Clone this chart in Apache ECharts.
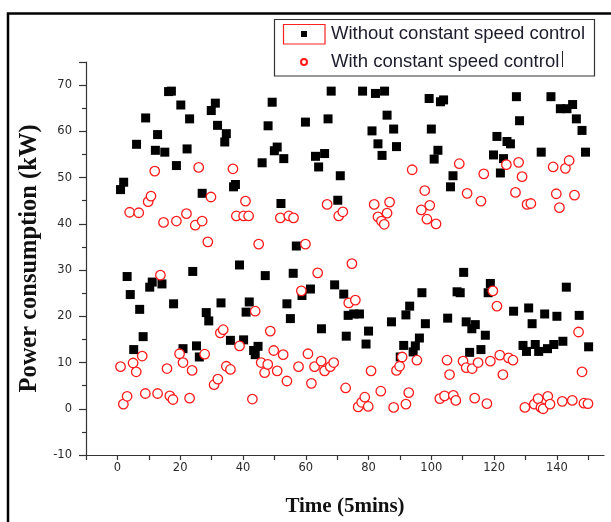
<!DOCTYPE html>
<html>
<head>
<meta charset="utf-8">
<script src="https://cdn.jsdelivr.net/npm/echarts@6/dist/echarts.min.js"></script>
<style>html,body{margin:0;padding:0;background:#fff;}#chart{width:611px;height:522px;}</style>
</head>
<body>
<div id="chart"></div>
<script>
// Series names
var seriesNames = ['Without constant speed control', 'With constant speed control'];
var xTitle = 'Time (5mins)';
var yTitle = 'Power consumption (kW)';

// Without constant speed control (black squares)
var timeWithout = [1.0,2.0,3.1,4.1,5.2,6.1,7.1,8.2,9.0,10.3,11.1,12.1,12.8,14.2,15.1,16.3,17.2,17.9,18.8,20.2,20.9,22.2,23.0,24.0,25.2,26.1,27.0,28.3,29.1,29.9,31.2,31.9,33.0,34.2,34.7,36.0,37.0,37.6,38.9,40.2,41.0,42.0,43.4,43.9,44.8,46.1,47.1,48.0,49.3,50.0,50.9,52.1,53.0,54.0,55.1,56.0,57.0,58.8,59.9,61.5,63.1,64.1,65.0,66.0,67.1,68.1,69.2,70.2,71.0,72.1,72.9,73.5,75.3,77.1,78.1,79.2,80.0,81.1,82.2,83.0,84.3,85.1,85.9,87.3,88.0,88.9,90.1,91.2,91.9,93.1,94.2,94.9,96.2,97.0,98.1,99.3,100.0,100.9,102.1,102.9,103.9,105.2,106.1,106.9,108.2,109.2,110.3,111.1,112.2,112.9,114.0,115.8,117.2,118.1,118.8,119.8,120.9,122.0,123.0,124.1,125.2,126.2,127.1,128.1,129.2,130.3,131.0,132.1,133.1,134.2,135.0,136.1,137.0,138.1,139.0,140.0,141.1,141.9,143.0,143.2,145.0,146.2,147.1,148.0,149.1,150.1];
var powerWithout = [47.4,49.0,28.6,24.7,12.8,57.2,21.5,15.6,62.9,26.3,27.4,55.9,59.3,27.0,55.5,68.6,68.7,22.7,52.6,65.7,13.0,56.2,62.7,29.7,13.6,11.2,46.6,20.8,19.0,64.5,66.1,61.3,22.9,57.7,59.5,14.8,48.0,48.5,31.1,14.9,20.9,23.1,12.6,11.7,13.5,53.2,28.8,61.2,66.3,55.8,56.6,44.4,54.1,22.7,19.5,29.3,35.2,24.5,62.0,25.9,54.6,52.3,17.3,55.2,62.7,68.7,26.8,45.1,50.4,24.8,15.7,20.2,20.5,20.5,68.7,14.0,16.8,60.1,68.2,57.3,54.8,68.7,63.5,18.8,60.5,56.7,11.2,13.7,20.3,22.2,12.3,13.6,15.3,25.1,18.4,67.1,60.5,54.0,55.9,66.4,66.8,19.6,48.0,50.4,25.3,25.1,29.5,18.8,12.2,17.3,18.2,12.8,15.9,25.1,27.1,54.9,58.9,51.0,54.1,57.8,57.3,21.1,67.5,62.3,13.7,12.4,21.8,18.4,13.9,12.4,55.5,20.5,13.0,67.5,13.9,20.0,64.9,14.6,26.3,64.9,65.8,62.7,20.2,60.2,55.5,13.4];

// With constant speed control (red open circles)
var timeWith = [1.0,1.9,3.1,3.9,5.0,6.0,6.8,7.9,8.9,9.8,10.7,11.9,12.8,13.7,14.7,15.8,16.7,17.7,18.8,19.8,20.9,22.0,23.0,23.8,24.8,25.9,27.0,27.8,28.8,29.8,30.8,32.0,32.8,33.7,34.7,36.0,36.8,37.9,38.9,40.2,40.8,41.8,43.0,43.9,45.0,45.8,46.9,47.9,48.7,49.8,50.9,51.9,52.8,54.0,54.6,56.1,57.7,58.6,59.9,60.7,61.8,62.8,63.8,64.9,66.0,66.8,67.8,68.9,70.5,71.8,72.7,73.7,74.7,75.8,76.7,77.8,78.8,79.9,80.8,81.8,83.0,83.9,84.1,85.0,85.9,86.7,88.0,88.9,89.9,90.7,91.9,92.8,93.9,95.4,96.8,97.9,98.6,99.5,101.5,102.7,104.2,105.0,105.8,107.0,107.8,108.9,110.1,111.1,111.4,113.0,113.8,114.9,115.8,116.7,117.7,118.8,119.6,120.9,121.8,122.8,123.9,124.6,126.0,126.8,127.8,128.9,129.8,130.5,131.7,132.8,134.0,134.9,135.6,137.1,137.8,138.8,139.8,140.8,141.7,142.7,143.9,144.9,145.6,146.9,148.0,148.6,149.9];
var powerWith = [9.1,1.0,2.7,42.5,9.9,8.0,42.4,11.4,3.3,44.8,46.0,51.4,3.3,28.9,40.3,8.7,2.8,2.0,40.6,11.9,10.0,42.2,2.3,8.3,39.7,52.2,40.6,11.8,36.1,45.8,5.2,6.4,16.4,17.1,9.2,8.5,51.9,41.7,13.6,41.7,44.9,41.7,2.1,21.1,35.6,10.0,7.8,9.6,16.8,12.6,8.2,41.3,11.7,6.0,41.7,41.3,9.1,25.5,35.6,11.9,5.5,9.1,29.4,10.3,8.2,44.2,9.1,10.0,41.7,42.6,4.5,22.9,31.4,23.5,0.4,1.4,2.5,0.5,8.2,44.2,41.5,3.8,40.6,39.9,42.3,44.7,0.3,8.3,9.2,11.2,1.0,3.5,51.7,10.5,43.0,47.2,41.0,44.0,40.0,2.2,2.8,10.5,7.4,2.9,1.8,53.0,10.3,8.9,46.6,8.7,2.3,10.0,44.9,50.8,1.1,10.3,25.5,22.2,11.6,7.4,52.8,11.0,10.5,46.8,53.3,50.2,0.3,44.2,44.4,1.0,2.2,0.3,0.0,2.7,1.0,52.3,46.5,43.5,1.6,52.0,53.7,1.8,46.2,16.6,8.0,1.2,1.1];

// Axis ranges / ticks
var xMin = -10, xMax = 155, xStep = 10, xLabelStep = 20;
var yMin = -10, yMax = 75, yStep = 10;

function zip(a, b) { var out = []; for (var i = 0; i < a.length; i++) out.push([a[i], b[i]]); return out; }

var chart = echarts.init(document.getElementById('chart'), null, {renderer: 'canvas'});
var axisColor = '#333';
var labelFont = {fontFamily: 'DejaVu Sans', fontSize: 11.5, color: '#2a2a2a'};
var titleFont = {fontFamily: 'Liberation Serif', fontWeight: 'bold', color: '#111'};

chart.setOption({
  animation: false,
  backgroundColor: '#fff',
  grid: {left: 86, right: 7, top: 62, bottom: 65, containLabel: false},
  legend: {
    orient: 'vertical', left: 300, top: 23, padding: 0, itemWidth: 6, itemHeight: 6, itemGap: 6,
    selectedMode: false,
    textStyle: {fontFamily: 'Liberation Sans', fontSize: 18.5, color: '#1c1c2c', padding: [0, 0, 0, 19], lineHeight: 22},
    data: [{name: seriesNames[0], icon: 'rect'}, {name: seriesNames[1], icon: 'circle'}]
  },
  xAxis: {
    type: 'value', min: xMin, max: xMax, interval: xStep,
    name: xTitle, nameLocation: 'middle', nameGap: 41,
    nameTextStyle: Object.assign({fontSize: 21}, titleFont),
    axisLine: {show: true, onZero: false, lineStyle: {color: axisColor, width: 1.2}},
    axisTick: {show: true, inside: false, length: 5, lineStyle: {color: axisColor, width: 1.2}},
    axisLabel: Object.assign({margin: 7, formatter: function (v) { return (v >= 0 && v % xLabelStep === 0) ? String(v) : ''; }, showMaxLabel: false}, labelFont),
    splitLine: {show: false}
  },
  yAxis: {
    type: 'value', min: yMin, max: yMax, interval: yStep,
    name: yTitle, nameLocation: 'middle', nameGap: 42,
    nameTextStyle: Object.assign({fontSize: 24.5}, titleFont),
    axisLine: {show: true, onZero: false, lineStyle: {color: axisColor, width: 1.2}},
    axisTick: {show: true, inside: false, length: 7, lineStyle: {color: axisColor, width: 1.2}},
    minorTick: {show: true, splitNumber: 2, length: 4, lineStyle: {color: axisColor, width: 1.2}},
    axisLabel: Object.assign({margin: 14, showMaxLabel: false, formatter: function (v) { return (v % 10 === 0) ? String(v) : ''; }}, labelFont),
    splitLine: {show: false}
  },
  series: [
    {
      name: seriesNames[0], type: 'scatter', symbol: 'rect', symbolSize: 9,
      itemStyle: {color: '#000', opacity: 1},
      data: zip(timeWithout, powerWithout), z: 2
    },
    {
      name: seriesNames[1], type: 'scatter', symbol: 'circle', symbolSize: 9.5,
      itemStyle: {color: '#fff', borderColor: '#ff1a1a', borderWidth: 1.3, opacity: 1},
      data: zip(timeWith, powerWith), z: 3
    }
  ],
  graphic: [
    {type: 'rect', silent: true, shape: {x: 8, y: 13.5, width: 700, height: 600}, style: {fill: 'none', stroke: '#000', lineWidth: 2.5}},
    {type: 'rect', silent: true, shape: {x: 274.5, y: 19.5, width: 320, height: 56.5}, style: {fill: 'none', stroke: '#333', lineWidth: 1.2}},
    {type: 'rect', silent: true, shape: {x: 283.5, y: 24.5, width: 41.5, height: 19.5}, style: {fill: 'none', stroke: '#ff2020', lineWidth: 1.2}},
    {type: 'line', silent: true, shape: {x1: 562.5, y1: 51, x2: 562.5, y2: 67}, style: {stroke: '#222', lineWidth: 1}}
  ]
});
</script>
</body>
</html>
